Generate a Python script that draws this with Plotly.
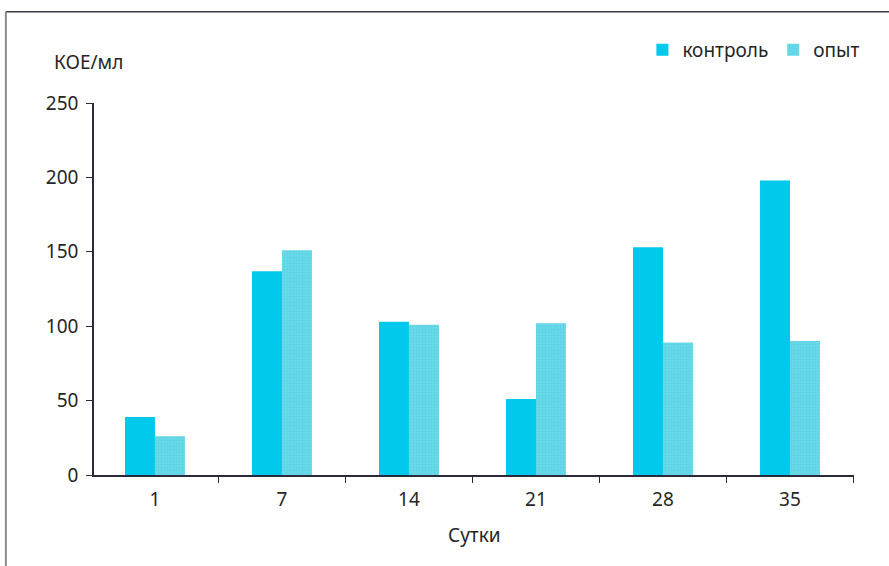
import plotly.graph_objects as go

days = ["1", "7", "14", "21", "28", "35"]
control = [39, 137, 103, 51, 153, 198]
experiment = [26, 151, 101, 102, 89, 90]
y_ticks = [0, 50, 100, 150, 200, 250]

FONT = "Noto Sans"
TXT = "#262626"
FS = 19

fig = go.Figure()
fig.add_trace(go.Bar(
    x=days, y=control, name="контроль",
    marker=dict(color="#00c9ec", line=dict(width=0)),
))
fig.add_trace(go.Bar(
    x=days, y=experiment, name="опыт",
    marker=dict(color="#6ad8e8", line=dict(width=0),
                pattern=dict(shape=".", size=3, solidity=0.35,
                             fgcolor="#45cde0", fillmode="overlay")),
))

fig.update_layout(
    width=889, height=566,
    margin=dict(l=94, r=35, t=103, b=91, autoexpand=False),
    paper_bgcolor="white", plot_bgcolor="white",
    barmode="group", bargap=0.528, bargroupgap=0,
    font=dict(family=FONT, size=FS, color=TXT),
    showlegend=True,
    legend=dict(orientation="h", x=1.015, xanchor="right", y=1.1425, yanchor="middle",
                font=dict(family=FONT, size=FS, color=TXT), bgcolor="rgba(0,0,0,0)",
                itemsizing="constant", itemwidth=30, traceorder="normal"),
    xaxis=dict(type="category", range=[-0.48, 5.504], showline=True,
               linecolor="#2a2a3a", linewidth=1.5, ticks="outside", tickson="boundaries",
               ticklen=6, tickcolor="#2a2a3a", showgrid=False, zeroline=False,
               ticklabelstandoff=6,
               tickfont=dict(family=FONT, size=FS, color=TXT)),
    yaxis=dict(range=[0, 250], tickvals=y_ticks, showline=True, linecolor="#2a2a3a",
               linewidth=1.5, ticks="outside", ticklen=6, tickcolor="#2a2a3a",
               showgrid=False, zeroline=False, ticklabelstandoff=4,
               tickfont=dict(family=FONT, size=FS, color=TXT)),
    annotations=[
        dict(text="Сутки", xref="paper", yref="paper", x=0.5, y=-0.16,
             xanchor="center", yanchor="middle", showarrow=False,
             font=dict(family=FONT, size=FS, color=TXT)),
        dict(text="КОЕ/мл", xref="paper", yref="paper", x=-0.0066, y=1.11,
             xanchor="center", yanchor="middle", showarrow=False,
             font=dict(family=FONT, size=FS, color=TXT)),
    ],
    shapes=[
        dict(type="line", xref="paper", yref="paper", x0=-0.116, x1=1.05, y0=1.245, y1=1.245,
             line=dict(color="#3a3a48", width=1.5)),
        dict(type="line", xref="paper", yref="paper", x0=-0.116, x1=-0.116, y0=1.245, y1=-0.3,
             line=dict(color="#8a8a8a", width=2)),
    ],
)

fig.write_html("out.html", config={"displayModeBar": False},
               post_script="document.body.style.margin='0';document.body.style.overflow='hidden';")
